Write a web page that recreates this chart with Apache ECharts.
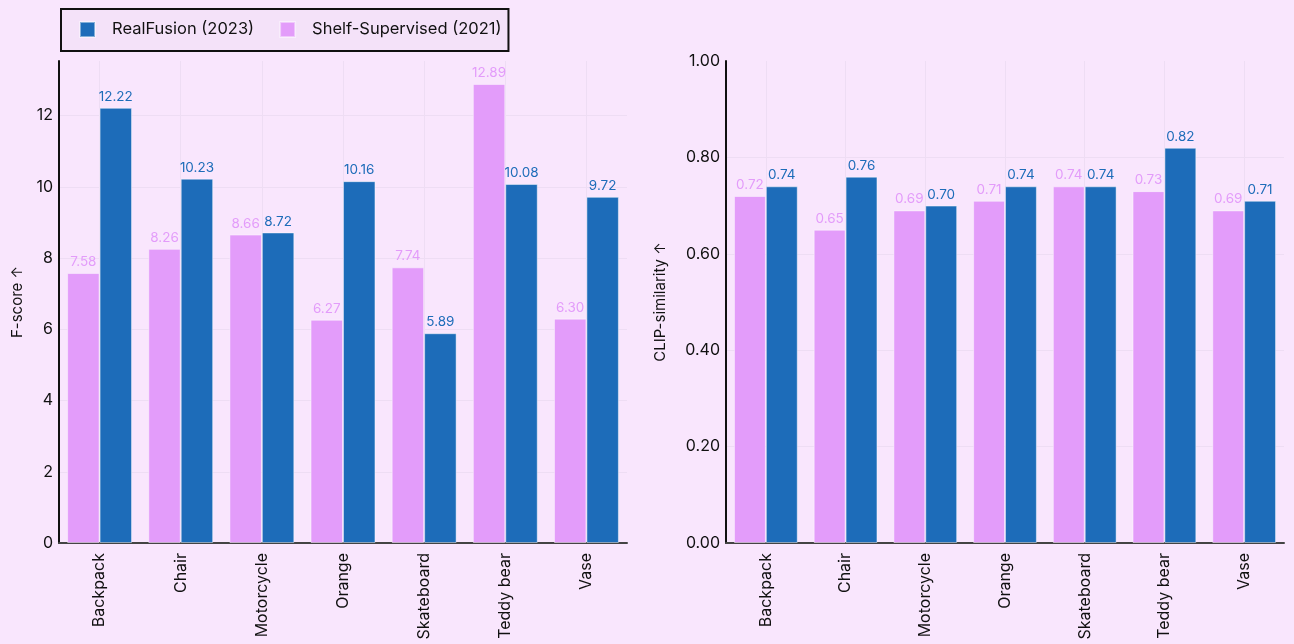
<!DOCTYPE html>
<html>
<head>
<meta charset="utf-8">
<script src="https://cdn.jsdelivr.net/npm/echarts@6/dist/echarts.min.js"></script>
<style>
html,body{margin:0;padding:0;background:#F9E6FD;}
#c{width:1294px;height:644px;}
</style>
</head>
<body>
<div id="c"></div>
<script>
const categories = ['Backpack', 'Chair', 'Motorcycle', 'Orange', 'Skateboard', 'Teddy bear', 'Vase'];
const realFusionF = [12.22, 10.23, 8.72, 10.16, 5.89, 10.08, 9.72];
const shelfF = [7.58, 8.26, 8.66, 6.27, 7.74, 12.89, 6.30];
const realFusionClip = [0.74, 0.76, 0.70, 0.74, 0.74, 0.82, 0.71];
const shelfClip = [0.72, 0.65, 0.69, 0.71, 0.74, 0.73, 0.69];
const seriesNames = ['RealFusion (2023)', 'Shelf-Supervised (2021)'];

const BLUE = '#1D6CB9';
const PINK = '#E39CFA';
const FONT = 'Inter, "Noto Sans", sans-serif';
const gridColor = '#EEDDF4';

const chart = echarts.init(document.getElementById('c'), null, {renderer: 'canvas'});

function xAxis(gi) {
  return {
    type: 'category', gridIndex: gi, data: categories,
    axisLine: {show: true, lineStyle: {color: '#444', width: 2}},
    axisTick: {show: false},
    axisLabel: {rotate: 90, color: '#111', fontSize: 16, fontFamily: FONT, margin: 10},
    splitLine: {show: true, alignWithLabel: true, lineStyle: {color: gridColor, width: 1}}
  };
}
function yAxis(gi, max, interval, name, gap, dec) {
  return {
    type: 'value', gridIndex: gi, min: 0, max: max, interval: interval,
    name: name, nameLocation: 'middle', nameGap: gap,
    nameTextStyle: {color: '#111', fontSize: 15, fontFamily: FONT},
    axisLine: {show: true, lineStyle: {color: '#111', width: 2}},
    axisTick: {show: false},
    axisLabel: {color: '#111', fontSize: 16, fontFamily: FONT, margin: 6, showMaxLabel: dec > 0,
      formatter: v => v.toFixed(dec)},
    splitLine: {show: true, showMaxLine: false, lineStyle: {color: gridColor, width: 1}}
  };
}
function bar(name, data, color, gi, dec) {
  return {
    type: 'bar', name: name, data: data, xAxisIndex: gi, yAxisIndex: gi,
    barWidth: '40%', barGap: '0%',
    itemStyle: {color: color, borderColor: 'rgba(255,255,255,0.45)', borderWidth: 1},
    label: {show: true, position: 'top', distance: 4, color: color, fontSize: 13.5, fontFamily: FONT,
      formatter: p => p.value.toFixed(dec)},
    z: 3
  };
}

chart.setOption({
  backgroundColor: '#F9E6FD',
  animation: false,
  legend: {
    data: seriesNames,
    left: 61, top: 9,
    orient: 'horizontal',
    backgroundColor: '#F4E2F9',
    borderColor: '#111', borderWidth: 2, borderRadius: 0,
    padding: [12, 7, 13, 18],
    itemWidth: 15, itemHeight: 15, itemGap: 25,
    icon: 'rect',
    textStyle: {color: '#111', fontSize: 16.5, fontFamily: FONT, padding: [0, 0, 0, 12]}
  },
  grid: [
    {left: 59, top: 61, width: 568, height: 482, containLabel: false},
    {left: 726, top: 61, width: 558, height: 482, containLabel: false}
  ],
  xAxis: [xAxis(0), xAxis(1)],
  yAxis: [
    yAxis(0, 13.5345, 2, 'F-score ↑', 34, 0),
    yAxis(1, 1.0, 0.2, 'CLIP-similarity ↑', 58, 2)
  ],
  series: [
    bar(seriesNames[1], shelfF, PINK, 0, 2),
    bar(seriesNames[0], realFusionF, BLUE, 0, 2),
    bar(seriesNames[1], shelfClip, PINK, 1, 2),
    bar(seriesNames[0], realFusionClip, BLUE, 1, 2)
  ]
});
</script>
</body>
</html>
